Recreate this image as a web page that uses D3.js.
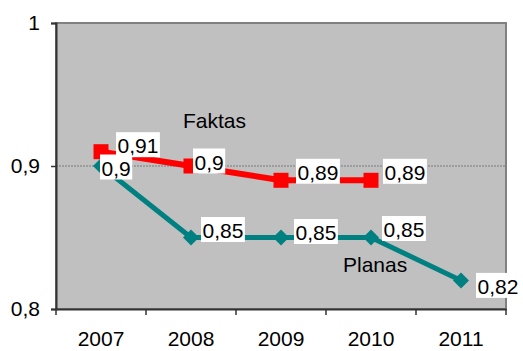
<!DOCTYPE html>
<html>
<head>
<meta charset="utf-8">
<script src="https://cdn.jsdelivr.net/npm/d3@7"></script>
<style>
  html, body { margin: 0; padding: 0; background: #fff; }
  svg { display: block; font-family: Arial, "Liberation Sans", sans-serif; }
</style>
</head>
<body>
<svg id="chart" width="523" height="351"></svg>
<script>
// Years on the category axis
const years = ["2007", "2008", "2009", "2010", "2011"];
// Actual values (Faktas) and planned values (Planas)
const faktas = [0.91, 0.9, 0.89, 0.89];
const planas = [0.9, 0.85, 0.85, 0.85, 0.82];
// Value-axis ticks
const yTicks = [0.8, 0.9, 1];

// Label box placement relative to its point: left edge dx, vertical centre dy
const faktasLabelOffset = [[15, -7], [2, -5], [15, -9], [12, -9]];
const planasLabelOffset = [[-1, 1], [10, -8], [13, -6], [11, -9], [15, 5]];

const FONT = 21;
const fmt = v => String(v).replace(".", ",");

const svg = d3.select("#chart");
const plot = { left: 56, top: 23, right: 506, bottom: 309 };

const x = d3.scaleBand().domain(years).range([plot.left, plot.right]);
const y = d3.scaleLinear().domain([0.8, 1]).range([plot.bottom, plot.top]);
const cx = d => x(d) + x.bandwidth() / 2;

// Plot area
svg.append("rect")
  .attr("x", plot.left).attr("y", plot.top)
  .attr("width", plot.right - plot.left).attr("height", plot.bottom - plot.top)
  .attr("fill", "#C0C0C0").attr("stroke", "#808080").attr("stroke-width", 2);

// Gridline at 0,9
svg.append("line")
  .attr("x1", plot.left).attr("x2", plot.right)
  .attr("y1", y(0.9)).attr("y2", y(0.9))
  .attr("stroke", "#7a7a7a").attr("stroke-width", 1)
  .attr("stroke-dasharray", "2,1");

// Value axis
const yAxis = d3.axisLeft(y).tickValues(yTicks).tickFormat(fmt).tickSize(5).tickPadding(11);
const gy = svg.append("g").attr("transform", `translate(${plot.left},0)`).call(yAxis);
gy.select(".domain").attr("stroke", "#333").attr("stroke-width", 2);
gy.selectAll(".tick line").attr("stroke", "#333").attr("stroke-width", 1.5);
gy.selectAll(".tick text").attr("font-size", FONT).attr("fill", "#000")
  .attr("font-family", "Arial, 'Liberation Sans', sans-serif");

// Category axis
const xAxis = d3.axisBottom(x).tickSize(0).tickPadding(22);
const gx = svg.append("g").attr("transform", `translate(0,${plot.bottom})`).call(xAxis);
gx.select(".domain").attr("stroke", "#333").attr("stroke-width", 2);
gx.selectAll(".tick text").attr("font-size", FONT).attr("fill", "#000")
  .attr("font-family", "Arial, 'Liberation Sans', sans-serif");
// Tick marks between categories
const boundaries = years.map(d => x(d)).concat([x(years[years.length - 1]) + x.bandwidth()]);
gx.selectAll(".sep").data(boundaries).join("line")
  .attr("class", "sep")
  .attr("x1", d => d).attr("x2", d => d)
  .attr("y1", 0).attr("y2", 6)
  .attr("stroke", "#333").attr("stroke-width", 1.5);

const line = d3.line().x((d, i) => cx(years[i])).y(d => y(d));

// Faktas series (red, square markers)
svg.append("path").datum(faktas)
  .attr("d", line).attr("fill", "none")
  .attr("stroke", "#FF0000").attr("stroke-width", 6).attr("stroke-linejoin", "round");
svg.selectAll(".fmark").data(faktas).join("rect")
  .attr("class", "fmark")
  .attr("x", (d, i) => cx(years[i]) - 7.5).attr("y", d => y(d) - 7.5)
  .attr("width", 15).attr("height", 15).attr("fill", "#FF0000");

// Planas series (teal, diamond markers)
svg.append("path").datum(planas)
  .attr("d", line).attr("fill", "none")
  .attr("stroke", "#008080").attr("stroke-width", 5).attr("stroke-linejoin", "round");
svg.selectAll(".pmark").data(planas).join("path")
  .attr("class", "pmark")
  .attr("d", (d, i) => {
    const px = cx(years[i]), py = y(d), r = 8;
    return `M${px},${py - r}L${px + r},${py}L${px},${py + r}L${px - r},${py}Z`;
  })
  .attr("fill", "#008080");

// Value labels on white boxes
function addLabels(values, offsets) {
  values.forEach((v, i) => {
    const px = cx(years[i]), py = y(v);
    const [dx, dy] = offsets[i];
    const g = svg.append("g");
    const rect = g.append("rect").attr("fill", "#fff");
    const t = g.append("text")
      .attr("font-size", FONT).attr("fill", "#000")
      .attr("dominant-baseline", "central")
      .text(fmt(v));
    const w = t.node().getComputedTextLength();
    t.attr("x", px + dx + 1.5).attr("y", py + dy + 1);
    rect.attr("x", px + dx).attr("y", py + dy - 12.5)
      .attr("width", w + 3).attr("height", 25);
  });
}
addLabels(faktas, faktasLabelOffset);
addLabels(planas, planasLabelOffset);

// Series names
svg.append("text").attr("x", 183).attr("y", 128)
  .attr("font-size", FONT).attr("fill", "#000").text("Faktas");
svg.append("text").attr("x", 343).attr("y", 272)
  .attr("font-size", FONT).attr("fill", "#000").text("Planas");
</script>
</body>
</html>
